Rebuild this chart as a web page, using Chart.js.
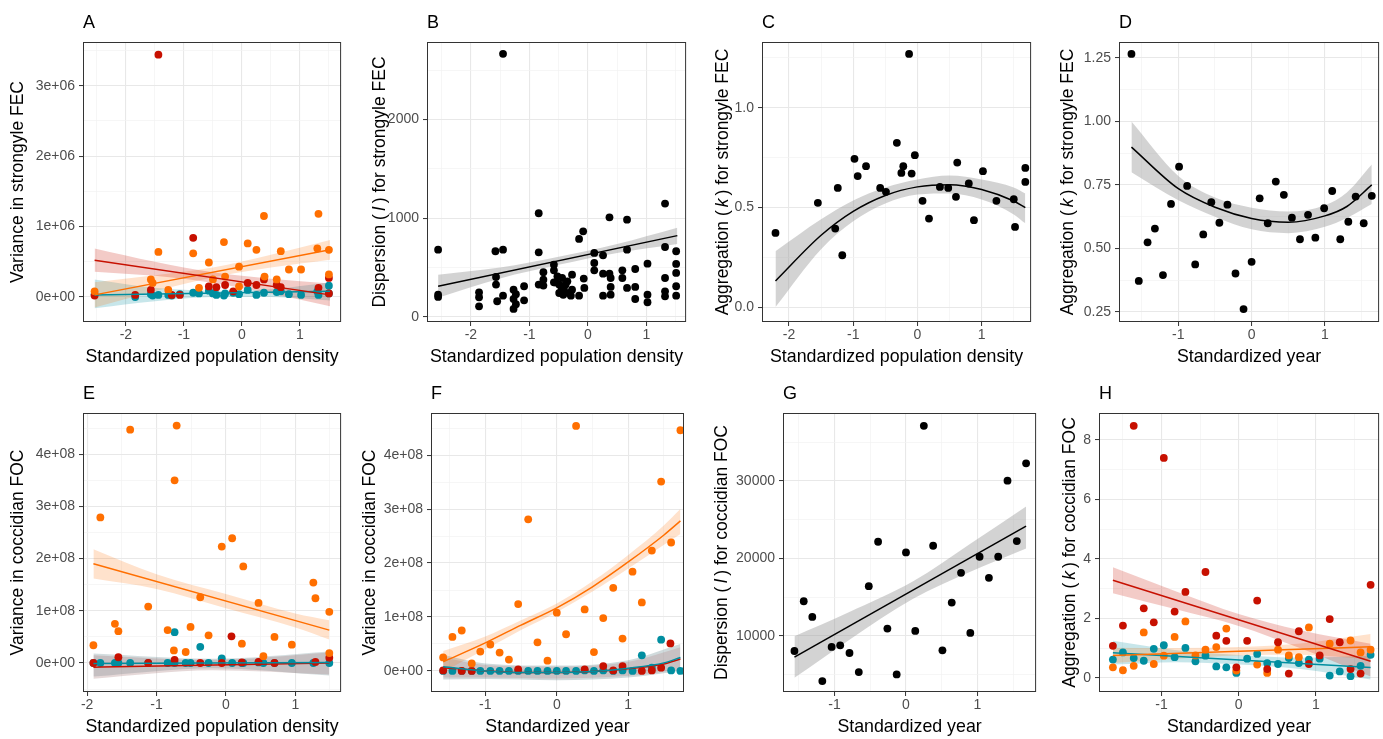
<!DOCTYPE html>
<html><head><meta charset="utf-8">
<script src="https://cdn.jsdelivr.net/npm/chart.js@4.4.1/dist/chart.umd.min.js"></script>
<style>
html,body{margin:0;padding:0;background:#fff;}
body{width:1383px;height:739px;overflow:hidden;position:relative;}
.p{position:absolute;}
</style></head><body>
<div class="p" style="left:0px;top:0px;width:345px;height:370px"><canvas id="cA"></canvas></div>
<div class="p" style="left:345px;top:0px;width:345px;height:370px"><canvas id="cB"></canvas></div>
<div class="p" style="left:690px;top:0px;width:345px;height:370px"><canvas id="cC"></canvas></div>
<div class="p" style="left:1035px;top:0px;width:348px;height:370px"><canvas id="cD"></canvas></div>
<div class="p" style="left:0px;top:370px;width:345px;height:369px"><canvas id="cE"></canvas></div>
<div class="p" style="left:345px;top:370px;width:345px;height:369px"><canvas id="cF"></canvas></div>
<div class="p" style="left:690px;top:370px;width:350px;height:369px"><canvas id="cG"></canvas></div>
<div class="p" style="left:1040px;top:370px;width:343px;height:369px"><canvas id="cH"></canvas></div>
<script>
// ---------- colours ----------
const ORANGE = '#FF6F00', RED = '#C71000', TEAL = '#008EA0', BLACK = '#000000';

// ---------- tick values / labels ----------
const X_MAJ_DENS = [-2, -1, 0, 1];
const X_LAB_DENS = ['-2', '-1', '0', '1'];
const X_MAJ_YEAR = [-1, 0, 1];
const X_LAB_YEAR = ['-1', '0', '1'];

const A_yMaj = [0, 1e6, 2e6, 3e6];
const A_yLab = ['0e+00', '1e+06', '2e+06', '3e+06'];
const B_yMaj = [0, 1000, 2000];
const B_yLab = ['0', '1000', '2000'];
const C_yMaj = [0, 0.5, 1.0];
const C_yLab = ['0.0', '0.5', '1.0'];
const D_yMaj = [0.25, 0.5, 0.75, 1.0, 1.25];
const D_yLab = ['0.25', '0.50', '0.75', '1.00', '1.25'];
const E_yMaj = [0, 1e8, 2e8, 3e8, 4e8];
const E_yLab = ['0e+00', '1e+08', '2e+08', '3e+08', '4e+08'];
const G_yMaj = [10000, 20000, 30000];
const G_yLab = ['10000', '20000', '30000'];
const H_yMaj = [0, 2, 4, 6, 8];
const H_yLab = ['0', '2', '4', '6', '8'];

// ---------- Panel A: variance in strongyle FEC ----------
const A_orange = [[-2.54,0.08e6],[-1.44,0.64e6],[-1.57,0.25e6],[-1.54,0.20e6],[-1.27,0.10e6],[-0.84,0.62e6],[-0.74,0.13e6],[-0.57,0.49e6],[-0.50,0.25e6],[-0.29,0.29e6],[-0.31,0.78e6],[-0.05,0.43e6],[-0.05,0.15e6],[0.10,0.76e6],[0.25,0.67e6],[0.38,1.15e6],[0.39,0.29e6],[0.67,0.65e6],[0.60,0.25e6],[0.81,0.39e6],[1.02,0.39e6],[1.32,1.18e6],[1.30,0.69e6],[1.50,0.67e6],[1.50,0.32e6]];
const A_red = [[-1.44,3.44e6],[-0.84,0.84e6],[-2.54,0.02e6],[-1.84,0.03e6],[-1.57,0.10e6],[-1.21,0.03e6],[-1.07,0.03e6],[-0.57,0.15e6],[-0.44,0.14e6],[-0.29,0.17e6],[-0.15,0.08e6],[0.10,0.20e6],[0.25,0.17e6],[0.38,0.25e6],[0.60,0.17e6],[0.67,0.14e6],[1.32,0.13e6],[1.50,0.27e6],[1.50,0.05e6]];
const A_teal = [[-2.54,0.04e6],[-1.84,0.0],[-1.57,0.04e6],[-1.54,0.02e6],[-1.44,0.03e6],[-1.27,0.03e6],[-1.21,0.02e6],[-1.07,0.04e6],[-0.84,0.06e6],[-0.74,0.05e6],[-0.57,0.09e6],[-0.50,0.05e6],[-0.44,0.03e6],[-0.31,0.02e6],[-0.29,0.05e6],[-0.15,0.06e6],[-0.05,0.04e6],[0.10,0.10e6],[0.25,0.03e6],[0.38,0.06e6],[0.60,0.07e6],[0.67,0.08e6],[0.81,0.04e6],[1.02,0.03e6],[1.30,0.08e6],[1.32,0.03e6],[1.50,0.16e6],[1.50,0.05e6]];
const A_redFit = [[-2.54,0.52e6],[1.52,0.03e6]];
const A_redLo = [[-2.54,0.36e6],[-1.5,0.30e6],[-0.5,0.20e6],[0.5,0.05e6],[1.52,-0.13e6]];
const A_redHi = [[-2.54,0.69e6],[-1.5,0.50e6],[-0.5,0.35e6],[0.5,0.26e6],[1.52,0.19e6]];
const A_orangeFit = [[-2.54,0.03e6],[1.52,0.67e6]];
const A_orangeLo = [[-2.54,-0.15e6],[-1.5,0.08e6],[-0.5,0.28e6],[0.5,0.42e6],[1.52,0.53e6]];
const A_orangeHi = [[-2.54,0.21e6],[-1.5,0.31e6],[-0.5,0.42e6],[0.5,0.60e6],[1.52,0.81e6]];
const A_tealFit = [[-2.54,0.03e6],[1.52,0.08e6]];
const A_tealLo = [[-2.54,-0.16e6],[-1.5,-0.06e6],[-0.5,0.0],[0.5,0.0],[1.52,-0.05e6]];
const A_tealHi = [[-2.54,0.25e6],[-1.5,0.13e6],[-0.5,0.09e6],[0.5,0.11e6],[1.52,0.21e6]];

// ---------- Panel B: dispersion strongyle FEC ----------
const B_pts = [[-1.45,2666],[-2.56,682],[-2.56,226],[-2.56,203],[-1.86,250],[-1.86,200],[-1.86,108],[-1.58,666],[-1.57,405],[-1.57,328],[-1.55,159],[-1.45,682],[-1.45,216],[-1.27,277],[-1.27,182],[-1.27,81],[-1.23,230],[-1.23,130],[-1.09,311],[-1.09,169],[-0.84,1051],[-0.84,655],[-0.84,328],[-0.76,453],[-0.76,378],[-0.76,318],[-0.58,530],[-0.58,473],[-0.58,351],[-0.55,350],[-0.52,412],[-0.49,328],[-0.49,243],[-0.45,300],[-0.44,395],[-0.42,225],[-0.41,284],[-0.38,330],[-0.35,361],[-0.32,243],[-0.29,216],[-0.27,429],[-0.27,277],[-0.15,791],[-0.15,216],[-0.08,868],[-0.07,389],[-0.06,294],[0.11,649],[0.11,547],[0.11,473],[0.26,625],[0.26,439],[0.26,216],[0.37,1010],[0.37,439],[0.39,395],[0.39,304],[0.39,226],[0.59,473],[0.59,395],[0.67,986],[0.67,682],[0.67,294],[0.81,486],[0.81,304],[0.81,182],[1.02,540],[1.02,226],[1.02,149],[1.32,1149],[1.32,709],[1.32,395],[1.32,260],[1.32,209],[1.51,666],[1.51,537],[1.51,446],[1.51,311],[1.51,216]];
const B_fit = [[-2.56,311],[1.53,824]];
const B_lo = [[-2.56,195],[-1.5,390],[-0.5,528],[0.5,648],[1.53,740]];
const B_hi = [[-2.56,428],[-1.5,500],[-0.5,610],[0.5,740],[1.53,905]];

// ---------- Panel C: aggregation strongyle FEC vs density ----------
const C_pts = [[-2.21,0.372],[-1.55,0.523],[-1.28,0.394],[-1.24,0.598],[-1.17,0.260],[-0.98,0.744],[-0.93,0.657],[-0.80,0.707],[-0.58,0.598],[-0.49,0.578],[-0.32,0.824],[-0.25,0.673],[-0.22,0.707],[-0.13,1.270],[-0.09,0.670],[-0.04,0.762],[0.08,0.533],[0.18,0.444],[0.35,0.603],[0.48,0.598],[0.60,0.553],[0.62,0.725],[0.80,0.620],[0.88,0.436],[1.02,0.682],[1.23,0.533],[1.50,0.541],[1.52,0.402],[1.68,0.698],[1.68,0.628]];
const C_fit = [[-2.21,0.131],[-1.5,0.36],[-1,0.48],[-0.5,0.56],[0,0.603],[0.5,0.614],[1,0.59],[1.5,0.532],[1.68,0.499]];
const C_lo = [[-2.21,0.0],[-1.5,0.29],[-1,0.43],[-0.5,0.52],[0,0.565],[0.5,0.57],[1,0.54],[1.5,0.465],[1.68,0.42]];
const C_hi = [[-2.21,0.28],[-1.5,0.44],[-1,0.535],[-0.5,0.60],[0,0.64],[0.5,0.66],[1,0.64],[1.5,0.60],[1.68,0.57]];

// ---------- Panel D: aggregation strongyle FEC vs year ----------
const D_pts = [[-1.64,1.266],[-1.54,0.372],[-1.42,0.524],[-1.32,0.578],[-1.21,0.395],[-1.10,0.675],[-0.99,0.822],[-0.88,0.746],[-0.77,0.437],[-0.66,0.555],[-0.55,0.682],[-0.44,0.601],[-0.33,0.672],[-0.22,0.401],[-0.11,0.261],[0.0,0.447],[0.11,0.697],[0.22,0.599],[0.33,0.763],[0.44,0.711],[0.55,0.621],[0.66,0.536],[0.77,0.632],[0.87,0.542],[0.99,0.658],[1.10,0.726],[1.21,0.536],[1.32,0.605],[1.42,0.704],[1.53,0.599],[1.64,0.707]];
const D_fit = [[-1.64,0.899],[-1,0.735],[-0.5,0.662],[0,0.618],[0.5,0.603],[1,0.628],[1.3,0.665],[1.64,0.75]];
const D_lo = [[-1.64,0.80],[-1,0.69],[-0.5,0.625],[0,0.575],[0.5,0.56],[1,0.585],[1.3,0.62],[1.64,0.675]];
const D_hi = [[-1.64,1.0],[-1,0.785],[-0.5,0.70],[0,0.66],[0.5,0.645],[1,0.67],[1.3,0.72],[1.64,0.83]];

// ---------- Panel E: variance coccidian FOC vs density ----------
const E_orange = [[-1.91,0.34e8],[-1.81,2.79e8],[-1.60,0.75e8],[-1.55,0.61e8],[-1.38,4.47e8],[-1.12,1.08e8],[-0.84,0.63e8],[-0.75,0.24e8],[-0.74,3.50e8],[-0.71,4.55e8],[-0.58,0.21e8],[-0.51,0.69e8],[-0.37,1.26e8],[-0.25,0.53e8],[-0.06,2.23e8],[0.09,2.39e8],[0.23,0.37e8],[0.25,1.85e8],[0.47,1.15e8],[0.54,0.13e8],[0.70,0.50e8],[0.95,0.35e8],[1.26,1.54e8],[1.29,1.24e8],[1.49,0.98e8],[1.49,0.19e8]];
const E_red = [[-1.91,0.0],[-1.55,0.11e8],[-1.12,0.0],[-0.74,0.06e8],[-0.37,0.0],[-0.06,0.0],[0.08,0.51e8],[0.23,0.01e8],[0.47,0.02e8],[0.70,0.0],[1.29,0.02e8],[1.49,0.10e8]];
const E_teal = [[-1.91,0.0],[-1.81,0.0],[-1.60,0.0],[-1.55,0.0],[-1.38,0.0],[-1.12,0.0],[-0.84,0.0],[-0.74,0.59e8],[-0.74,0.0],[-0.58,0.0],[-0.51,0.0],[-0.37,0.31e8],[-0.25,0.0],[-0.06,0.09e8],[0.09,0.0],[0.23,0.0],[0.25,0.0],[0.47,0.01e8],[0.54,0.0],[0.70,0.0],[0.95,0.0],[1.26,0.0],[1.49,0.0]];
const E_orangeFit = [[-1.91,1.90e8],[1.49,0.63e8]];
const E_orangeLo = [[-1.91,1.62e8],[-1,1.42e8],[0,1.05e8],[1,0.68e8],[1.49,0.45e8]];
const E_orangeHi = [[-1.91,2.18e8],[-1,1.70e8],[0,1.32e8],[1,0.95e8],[1.49,0.82e8]];
const E_redFit = [[-1.91,-0.08e8],[1.49,0.0]];
const E_redLo = [[-1.91,-0.30e8],[-0.2,-0.14e8],[1.49,-0.22e8]];
const E_redHi = [[-1.91,0.15e8],[-0.2,0.06e8],[1.49,0.20e8]];
const E_tealFit = [[-1.91,-0.01e8],[1.49,0.01e8]];
const E_tealLo = [[-1.91,-0.26e8],[-0.2,-0.10e8],[1.49,-0.24e8]];
const E_tealHi = [[-1.91,0.18e8],[-0.2,0.08e8],[1.49,0.22e8]];

// ---------- Panel F: variance coccidian FOC vs year ----------
const F_orange = [[-1.59,0.25e8],[-1.46,0.63e8],[-1.33,0.75e8],[-1.19,0.14e8],[-1.07,0.36e8],[-0.93,0.49e8],[-0.80,0.34e8],[-0.67,0.21e8],[-0.54,1.24e8],[-0.40,2.81e8],[-0.27,0.53e8],[-0.13,0.19e8],[0.0,1.08e8],[0.13,0.68e8],[0.27,4.54e8],[0.39,1.14e8],[0.52,0.35e8],[0.65,0.98e8],[0.79,1.54e8],[0.92,0.60e8],[1.06,1.84e8],[1.19,1.27e8],[1.33,2.23e8],[1.46,3.51e8],[1.60,2.38e8],[1.73,4.46e8]];
const F_red = [[-1.59,0.01e8],[-1.33,0.0],[-1.19,0.0],[-0.54,0.03e8],[0.39,0.03e8],[0.65,0.09e8],[0.79,0.01e8],[0.92,0.09e8],[1.19,0.0],[1.33,0.01e8],[1.46,0.06e8],[1.59,0.51e8]];
const F_teal = [[-1.59,0.0],[-1.46,0.0],[-1.33,0.0],[-1.19,0.0],[-1.07,0.0],[-0.93,0.0],[-0.80,0.0],[-0.67,0.0],[-0.54,0.0],[-0.40,0.0],[-0.27,0.0],[-0.13,0.0],[0.0,0.0],[0.13,0.0],[0.27,0.0],[0.39,0.01e8],[0.52,0.0],[0.65,0.01e8],[0.79,0.0],[0.92,0.01e8],[1.06,0.0],[1.19,0.29e8],[1.33,0.06e8],[1.46,0.58e8],[1.60,0.01e8],[1.73,0.0]];
const F_orangeFit = [[-1.59,0.17e8],[-1,0.52e8],[-0.5,0.85e8],[0,1.17e8],[0.5,1.56e8],[1,2.02e8],[1.5,2.52e8],[1.73,2.78e8]];
const F_orangeLo = [[-1.59,-0.02e8],[-1,0.40e8],[-0.5,0.76e8],[0,1.09e8],[0.5,1.47e8],[1,1.90e8],[1.5,2.34e8],[1.73,2.54e8]];
const F_orangeHi = [[-1.59,0.37e8],[-1,0.64e8],[-0.5,0.94e8],[0,1.25e8],[0.5,1.66e8],[1,2.15e8],[1.5,2.70e8],[1.73,3.0e8]];
const F_tealFit = [[-1.59,0.08e8],[-1,0.0],[-0.5,-0.03e8],[0,-0.03e8],[0.5,-0.01e8],[1,0.05e8],[1.5,0.15e8],[1.73,0.25e8]];
const F_tealLo = [[-1.59,-0.16e8],[-1,-0.15e8],[0,-0.17e8],[1,-0.12e8],[1.73,0.0]];
const F_tealHi = [[-1.59,0.30e8],[-1,0.14e8],[0,0.10e8],[1,0.20e8],[1.73,0.50e8]];
const F_redFit = [[-1.59,0.06e8],[-1,0.0],[-0.5,-0.03e8],[0,-0.03e8],[0.5,-0.01e8],[1,0.04e8],[1.5,0.13e8],[1.73,0.22e8]];
const F_redLo = [[-1.59,-0.12e8],[-1,-0.12e8],[0,-0.14e8],[1,-0.09e8],[1.73,0.02e8]];
const F_redHi = [[-1.59,0.25e8],[-1,0.11e8],[0,0.08e8],[1,0.17e8],[1.73,0.44e8]];

// ---------- Panel G: dispersion coccidian FOC vs year ----------
const G_pts = [[-1.56,8060],[-1.43,14480],[-1.31,12460],[-1.17,4180],[-1.04,8580],[-0.92,8790],[-0.79,7800],[-0.66,5340],[-0.52,16420],[-0.39,22160],[-0.26,10950],[-0.13,5040],[0.0,20780],[0.13,10650],[0.25,37110],[0.38,21640],[0.51,8150],[0.64,14310],[0.77,18150],[0.90,10390],[1.03,20220],[1.16,17500],[1.29,20220],[1.42,30040],[1.55,22240],[1.68,32280]];
const G_fit = [[-1.56,7280],[1.68,24180]];
const G_lo = [[-1.56,4600],[-0.8,9450],[0.1,14800],[0.9,18300],[1.68,21300]];
const G_hi = [[-1.56,9950],[-0.8,13050],[0.1,17050],[0.9,21900],[1.68,26700]];

// ---------- Panel H: aggregation coccidian FOC vs year ----------
const H_red = [[-1.63,1.08],[-1.50,1.76],[-1.36,8.47],[-1.23,2.34],[-1.10,1.87],[-0.97,7.39],[-0.83,2.23],[-0.69,2.89],[-0.43,3.56],[-0.29,1.42],[-0.16,1.25],[-0.03,0.36],[0.11,1.25],[0.24,2.60],[0.37,0.30],[0.51,1.20],[0.65,0.15],[0.78,1.57],[0.91,0.47],[1.05,0.76],[1.18,1.98],[1.31,1.20],[1.45,0.30],[1.58,0.15],[1.71,3.13]];
const H_orange = [[-1.63,0.36],[-1.50,0.26],[-1.36,0.41],[-1.23,1.53],[-1.10,0.47],[-0.97,0.75],[-0.83,1.38],[-0.69,1.90],[-0.56,0.76],[-0.43,0.95],[-0.29,1.04],[-0.16,1.66],[-0.03,0.25],[0.24,0.45],[0.37,0.17],[0.51,0.95],[0.65,0.76],[0.78,0.70],[0.91,1.70],[1.18,1.15],[1.45,1.26],[1.58,0.86],[1.71,0.95]];
const H_teal = [[-1.63,0.62],[-1.50,0.86],[-1.36,0.67],[-1.23,0.58],[-1.10,0.98],[-0.97,1.10],[-0.83,0.70],[-0.69,1.01],[-0.56,0.56],[-0.43,0.75],[-0.29,0.39],[-0.16,0.36],[-0.03,0.17],[0.11,0.65],[0.24,0.81],[0.37,0.50],[0.51,0.47],[0.65,0.67],[0.78,0.50],[0.91,0.62],[1.05,0.65],[1.18,0.08],[1.31,0.22],[1.45,0.06],[1.58,0.41],[1.71,0.78]];
const H_redFit = [[-1.63,3.28],[1.71,0.56]];
const H_redLo = [[-1.63,2.85],[-0.8,2.30],[0,1.75],[0.8,1.0],[1.71,0.05]];
const H_redHi = [[-1.63,3.72],[-0.8,2.90],[0,2.15],[0.8,1.6],[1.71,1.15]];
const H_orangeFit = [[-1.63,0.76],[1.71,1.05]];
const H_orangeLo = [[-1.63,0.50],[-0.8,0.65],[0,0.76],[0.8,0.78],[1.71,0.62]];
const H_orangeHi = [[-1.63,1.02],[-0.8,1.01],[0,1.04],[0.8,1.16],[1.71,1.48]];
const H_tealFit = [[-1.63,0.85],[1.71,0.35]];
const H_tealLo = [[-1.63,0.45],[-0.8,0.53],[0,0.45],[0.8,0.30],[1.71,-0.05]];
const H_tealHi = [[-1.63,1.25],[-0.8,0.93],[0,0.77],[0.8,0.68],[1.71,0.75]];

// ================= rendering helpers =================
const FONT = '"Liberation Sans", Arial, Helvetica, sans-serif';
Chart.defaults.font.family = FONT;
Chart.defaults.animation = false;

function xy(a) { return a.map(p => ({x: p[0], y: p[1]})); }

function scatterDs(pts, col) {
  return {type: 'scatter', data: xy(pts), backgroundColor: col, borderWidth: 0, pointRadius: 3.9, pointHoverRadius: 3.9, order: 5};
}
function fitDs(pts, col) {
  return {type: 'line', data: xy(pts), borderColor: col, borderWidth: 1.5, pointRadius: 0, fill: false, cubicInterpolationMode: 'monotone', order: 1};
}
function bandDs(lo, hi, fillCol) {
  return [
    {type: 'line', data: xy(lo), borderWidth: 0, borderColor: 'rgba(0,0,0,0)', pointRadius: 0, fill: false, cubicInterpolationMode: 'monotone', order: 10},
    {type: 'line', data: xy(hi), borderWidth: 0, borderColor: 'rgba(0,0,0,0)', pointRadius: 0, fill: '-1', backgroundColor: fillCol, cubicInterpolationMode: 'monotone', order: 10}
  ];
}

function minorsBetween(majors, min, max) {
  const step = majors[1] - majors[0];
  const ext = [majors[0] - step].concat(majors, [majors[majors.length - 1] + step]);
  const out = [];
  for (let i = 0; i < ext.length - 1; i++) {
    const m = (ext[i] + ext[i + 1]) / 2;
    if (m > min && m < max) out.push(m);
  }
  return out;
}

function axisCfg(min, max, majors, labels, pad) {
  const minors = minorsBetween(majors, min, max);
  const isMaj = v => majors.indexOf(v) >= 0;
  return {
    type: 'linear', min: min, max: max,
    afterBuildTicks: s => { s.ticks = majors.concat(minors).sort((a, b) => a - b).map(v => ({value: v})); },
    ticks: {
      autoSkip: false, maxRotation: 0, minRotation: 0, color: '#4D4D4D', font: {size: 14}, padding: pad,
      callback: v => { const i = majors.indexOf(v); return i >= 0 ? labels[i] : ''; }
    },
    grid: {
      color: c => (c.tick && isMaj(c.tick.value)) ? '#E8E8E8' : '#F2F2F2',
      lineWidth: c => (c.tick && isMaj(c.tick.value)) ? 1.1 : 0.7,
      tickColor: c => (c.tick && isMaj(c.tick.value)) ? '#333333' : 'rgba(0,0,0,0)',
      tickLength: 4, tickWidth: 1, drawTicks: true
    },
    border: {display: false}
  };
}

const framePlugin = {
  id: 'frame',
  afterDatasetsDraw(chart) {
    const a = chart.chartArea, c = chart.ctx;
    c.save();
    c.strokeStyle = '#333333'; c.lineWidth = 1;
    c.strokeRect(a.left + 0.5, a.top + 0.5, a.right - a.left - 1, a.bottom - a.top - 1);
    c.restore();
  }
};

function textPlugin(letter, letterY, yTitle, ytX) {
  return {
    id: 'txt',
    afterDraw(chart) {
      const a = chart.chartArea, c = chart.ctx;
      c.save();
      c.fillStyle = '#000';
      c.font = '18px ' + FONT;
      c.textAlign = 'left'; c.textBaseline = 'alphabetic';
      c.fillText(letter, a.left, letterY);
      const segs = yTitle.map(s => ({t: s.t, f: (s.i ? 'italic ' : '') + '17.5px ' + FONT, gap: s.i ? 3 : 0}));
      let total = 0;
      segs.forEach(s => { c.font = s.f; s.w = c.measureText(s.t).width; total += s.w + 2 * s.gap; });
      c.translate(ytX, (a.top + a.bottom) / 2);
      c.rotate(-Math.PI / 2);
      c.textBaseline = 'middle';
      let x = -total / 2;
      segs.forEach(s => { c.font = s.f; x += s.gap; c.fillText(s.t, x, 0); x += s.w + s.gap; });
      c.restore();
    }
  };
}

function panel(id, p) {
  new Chart(document.getElementById(id), {
    type: 'scatter',
    data: {datasets: p.datasets},
    options: {
      responsive: true, maintainAspectRatio: false, animation: false, events: [],
      layout: {padding: {left: 0, top: p.pt, right: p.pr, bottom: 0}},
      plugins: {legend: {display: false}, tooltip: {enabled: false}, title: {display: false}},
      scales: {
        x: Object.assign(axisCfg(p.xmin, p.xmax, p.xMaj, p.xLab, 1), {
          position: 'bottom',
          title: {display: true, text: p.xTitle, color: '#000', font: {size: 17.8}, padding: {top: 0, bottom: p.xtpb}},
          afterFit: s => { s.height = p.xh; }
        }),
        y: Object.assign(axisCfg(p.ymin, p.ymax, p.yMaj, p.yLab, 4), {
          position: 'left',
          afterFit: s => { s.width = p.yw; }
        })
      }
    },
    plugins: [framePlugin, textPlugin(p.letter, p.letterY, p.yTitle, p.ytX)]
  });
}

const DENS = 'Standardized population density';
const YEAR = 'Standardized year';
const GREYBAND = 'rgba(150,150,150,0.42)';

panel('cA', {
  letter: 'A', letterY: 28, pt: 42, pr: 3, yw: 83, xh: 48, xtpb: 2.5, ytX: 18,
  xmin: -2.74, xmax: 1.71, ymin: -0.355e6, ymax: 3.62e6,
  xMaj: X_MAJ_DENS, xLab: X_LAB_DENS, yMaj: A_yMaj, yLab: A_yLab, xTitle: DENS,
  yTitle: [{t: 'Variance in strongyle FEC'}],
  datasets: [].concat(
    bandDs(A_redLo, A_redHi, 'rgba(199,16,0,0.22)'),
    bandDs(A_orangeLo, A_orangeHi, 'rgba(255,111,0,0.2)'),
    bandDs(A_tealLo, A_tealHi, 'rgba(0,142,160,0.22)'),
    [scatterDs(A_orange, ORANGE), scatterDs(A_red, RED), scatterDs(A_teal, TEAL),
     fitDs(A_redFit, RED), fitDs(A_orangeFit, ORANGE), fitDs(A_tealFit, TEAL)])
});

panel('cB', {
  letter: 'B', letterY: 28, pt: 42, pr: 2, yw: 82, xh: 48, xtpb: 2.5, ytX: 35,
  xmin: -2.75, xmax: 1.68, ymin: -51, ymax: 2786,
  xMaj: X_MAJ_DENS, xLab: X_LAB_DENS, yMaj: B_yMaj, yLab: B_yLab, xTitle: DENS,
  yTitle: [{t: 'Dispersion ('}, {t: 'I', i: true}, {t: ') for strongyle FEC'}],
  datasets: [].concat(bandDs(B_lo, B_hi, GREYBAND), [scatterDs(B_pts, BLACK), fitDs(B_fit, BLACK)])
});

panel('cC', {
  letter: 'C', letterY: 28, pt: 42, pr: 3, yw: 72, xh: 48, xtpb: 2.5, ytX: 33,
  xmin: -2.42, xmax: 1.77, ymin: -0.075, ymax: 1.33,
  xMaj: X_MAJ_DENS, xLab: X_LAB_DENS, yMaj: C_yMaj, yLab: C_yLab, xTitle: DENS,
  yTitle: [{t: 'Aggregation ('}, {t: 'k', i: true}, {t: ') for strongyle FEC'}],
  datasets: [].concat(bandDs(C_lo, C_hi, GREYBAND), [scatterDs(C_pts, BLACK), fitDs(C_fit, BLACK)])
});

panel('cD', {
  letter: 'D', letterY: 28, pt: 42, pr: 1, yw: 84, xh: 48, xtpb: 2.5, ytX: 33,
  xmin: -1.81, xmax: 1.74, ymin: 0.21, ymax: 1.313,
  xMaj: X_MAJ_YEAR, xLab: X_LAB_YEAR, yMaj: D_yMaj, yLab: D_yLab, xTitle: YEAR,
  yTitle: [{t: 'Aggregation ('}, {t: 'k', i: true}, {t: ') for strongyle FEC'}],
  datasets: [].concat(bandDs(D_lo, D_hi, GREYBAND), [scatterDs(D_pts, BLACK), fitDs(D_fit, BLACK)])
});

panel('cE', {
  letter: 'E', letterY: 29, pt: 43, pr: 3, yw: 83, xh: 47, xtpb: 1.5, ytX: 18,
  xmin: -2.06, xmax: 1.66, ymin: -0.556e8, ymax: 4.79e8,
  xMaj: X_MAJ_DENS, xLab: X_LAB_DENS, yMaj: E_yMaj, yLab: E_yLab, xTitle: DENS,
  yTitle: [{t: 'Variance in coccidian FOC'}],
  datasets: [].concat(
    bandDs(E_orangeLo, E_orangeHi, 'rgba(255,111,0,0.2)'),
    bandDs(E_redLo, E_redHi, 'rgba(160,110,110,0.27)'),
    bandDs(E_tealLo, E_tealHi, 'rgba(95,130,135,0.27)'),
    [scatterDs(E_orange, ORANGE), scatterDs(E_red, RED), scatterDs(E_teal, TEAL),
     fitDs(E_orangeFit, ORANGE), fitDs(E_tealFit, TEAL), fitDs(E_redFit, RED)])
});

panel('cF', {
  letter: 'F', letterY: 29, pt: 43, pr: 6, yw: 86, xh: 47, xtpb: 1.5, ytX: 25,
  xmin: -1.76, xmax: 1.78, ymin: -0.39e8, ymax: 4.78e8,
  xMaj: X_MAJ_YEAR, xLab: X_LAB_YEAR, yMaj: E_yMaj, yLab: E_yLab, xTitle: YEAR,
  yTitle: [{t: 'Variance in coccidian FOC'}],
  datasets: [].concat(
    bandDs(F_orangeLo, F_orangeHi, 'rgba(255,111,0,0.2)'),
    bandDs(F_redLo, F_redHi, 'rgba(170,95,95,0.2)'),
    bandDs(F_tealLo, F_tealHi, 'rgba(80,120,125,0.27)'),
    [scatterDs(F_orange, ORANGE), scatterDs(F_red, RED), scatterDs(F_teal, TEAL),
     fitDs(F_orangeFit, ORANGE), fitDs(F_tealFit, TEAL), fitDs(F_redFit, RED)])
});

panel('cG', {
  letter: 'G', letterY: 29, pt: 43, pr: 2, yw: 93, xh: 47, xtpb: 1.5, ytX: 32,
  xmin: -1.72, xmax: 1.82, ymin: 2770, ymax: 38770,
  xMaj: X_MAJ_YEAR, xLab: X_LAB_YEAR, yMaj: G_yMaj, yLab: G_yLab, xTitle: YEAR,
  yTitle: [{t: 'Dispersion ('}, {t: 'I', i: true}, {t: ') for coccidian FOC'}],
  datasets: [].concat(bandDs(G_lo, G_hi, GREYBAND), [scatterDs(G_pts, BLACK), fitDs(G_fit, BLACK)])
});

panel('cH', {
  letter: 'H', letterY: 29, pt: 43, pr: 1, yw: 59, xh: 47, xtpb: 1.5, ytX: 30,
  xmin: -1.81, xmax: 1.82, ymin: -0.47, ymax: 8.9,
  xMaj: X_MAJ_YEAR, xLab: X_LAB_YEAR, yMaj: H_yMaj, yLab: H_yLab, xTitle: YEAR,
  yTitle: [{t: 'Aggregation ('}, {t: 'k', i: true}, {t: ') for coccidian FOC'}],
  datasets: [].concat(
    bandDs(H_redLo, H_redHi, 'rgba(199,16,0,0.22)'),
    bandDs(H_orangeLo, H_orangeHi, 'rgba(255,111,0,0.2)'),
    bandDs(H_tealLo, H_tealHi, 'rgba(0,142,160,0.22)'),
    [scatterDs(H_red, RED), scatterDs(H_orange, ORANGE), scatterDs(H_teal, TEAL),
     fitDs(H_redFit, RED), fitDs(H_orangeFit, ORANGE), fitDs(H_tealFit, TEAL)])
});
</script>
</body></html>
